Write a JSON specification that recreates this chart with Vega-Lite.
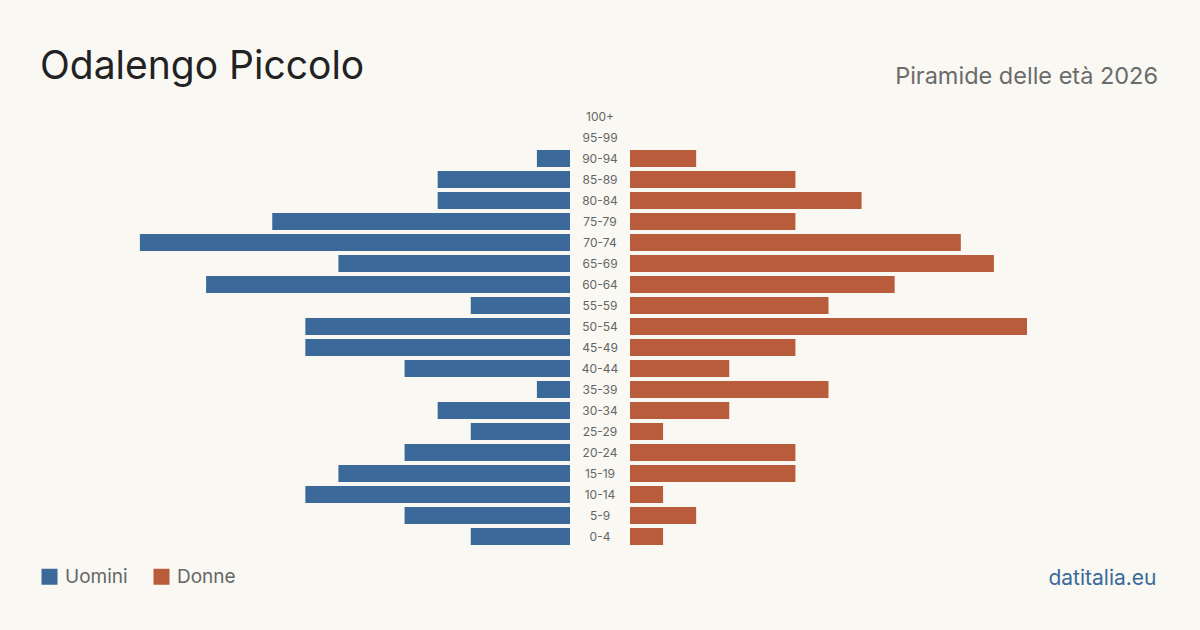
{
  "$schema": "https://vega.github.io/schema/vega-lite/v6.json",
  "background": "#f9f8f3",
  "padding": {"left": 40, "top": 48, "right": 42, "bottom": 43},
  "config": {
    "view": {"stroke": null},
    "font": "Inter",
    "text": {"font": "Inter"}
  },
  "datasets": {
    "piramide": [
      {"eta": "100+", "sesso": "Uomini", "n": 0}, {"eta": "100+", "sesso": "Donne", "n": 0},
      {"eta": "95-99", "sesso": "Uomini", "n": 0}, {"eta": "95-99", "sesso": "Donne", "n": 0},
      {"eta": "90-94", "sesso": "Uomini", "n": 1}, {"eta": "90-94", "sesso": "Donne", "n": 2},
      {"eta": "85-89", "sesso": "Uomini", "n": 4}, {"eta": "85-89", "sesso": "Donne", "n": 5},
      {"eta": "80-84", "sesso": "Uomini", "n": 4}, {"eta": "80-84", "sesso": "Donne", "n": 7},
      {"eta": "75-79", "sesso": "Uomini", "n": 9}, {"eta": "75-79", "sesso": "Donne", "n": 5},
      {"eta": "70-74", "sesso": "Uomini", "n": 13}, {"eta": "70-74", "sesso": "Donne", "n": 10},
      {"eta": "65-69", "sesso": "Uomini", "n": 7}, {"eta": "65-69", "sesso": "Donne", "n": 11},
      {"eta": "60-64", "sesso": "Uomini", "n": 11}, {"eta": "60-64", "sesso": "Donne", "n": 8},
      {"eta": "55-59", "sesso": "Uomini", "n": 3}, {"eta": "55-59", "sesso": "Donne", "n": 6},
      {"eta": "50-54", "sesso": "Uomini", "n": 8}, {"eta": "50-54", "sesso": "Donne", "n": 12},
      {"eta": "45-49", "sesso": "Uomini", "n": 8}, {"eta": "45-49", "sesso": "Donne", "n": 5},
      {"eta": "40-44", "sesso": "Uomini", "n": 5}, {"eta": "40-44", "sesso": "Donne", "n": 3},
      {"eta": "35-39", "sesso": "Uomini", "n": 1}, {"eta": "35-39", "sesso": "Donne", "n": 6},
      {"eta": "30-34", "sesso": "Uomini", "n": 4}, {"eta": "30-34", "sesso": "Donne", "n": 3},
      {"eta": "25-29", "sesso": "Uomini", "n": 3}, {"eta": "25-29", "sesso": "Donne", "n": 1},
      {"eta": "20-24", "sesso": "Uomini", "n": 5}, {"eta": "20-24", "sesso": "Donne", "n": 5},
      {"eta": "15-19", "sesso": "Uomini", "n": 7}, {"eta": "15-19", "sesso": "Donne", "n": 5},
      {"eta": "10-14", "sesso": "Uomini", "n": 8}, {"eta": "10-14", "sesso": "Donne", "n": 1},
      {"eta": "5-9", "sesso": "Uomini", "n": 5}, {"eta": "5-9", "sesso": "Donne", "n": 2},
      {"eta": "0-4", "sesso": "Uomini", "n": 3}, {"eta": "0-4", "sesso": "Donne", "n": 1}
    ]
  },
  "data": {"name": "piramide"},
  "spacing": 0,
  "bounds": "flush",
  "resolve": {"scale": {"color": "independent", "y": "independent"}, "legend": {"color": "independent"}},
  "hconcat": [
    {
      "width": 530,
      "height": 441,
      "title": {"text": "Odalengo Piccolo", "anchor": "start", "frame": "group", "fontSize": 39, "font": "Inter", "fontWeight": "normal", "color": "#222222", "baseline": "alphabetic", "offset": -12},
      "transform": [{"filter": "datum.sesso === 'Uomini'"}],
      "mark": {"type": "bar"},
      "encoding": {
        "y": {"field": "eta", "type": "nominal", "axis": null,
              "scale": {"domain": ["100+", "95-99", "90-94", "85-89", "80-84", "75-79", "70-74", "65-69", "60-64", "55-59", "50-54", "45-49", "40-44", "35-39", "30-34", "25-29", "20-24", "15-19", "10-14", "5-9", "0-4"], "paddingInner": 0.2, "paddingOuter": 0.1}},
        "x": {"field": "n", "type": "quantitative", "axis": null, "scale": {"domain": [0, 16.02], "reverse": true, "nice": false}},
        "color": {"field": "sesso", "type": "nominal",
                  "scale": {"domain": ["Uomini", "Donne"], "range": ["#3b6a9a", "#b95c3c"]},
                  "legend": {"orient": "bottom", "direction": "horizontal", "title": null, "symbolType": "square", "symbolSize": 256, "symbolStrokeWidth": 0, "symbolOpacity": 1, "labelFontSize": 19, "labelFont": "Inter", "labelColor": "#666666", "labelOffset": 6, "columnPadding": 24, "offset": 20, "padding": 0}}
      }
    },
    {
      "width": 60,
      "height": 441,
      "transform": [{"filter": "datum.sesso === 'Uomini'"}],
      "mark": {"type": "text", "fontSize": 12, "font": "Inter", "color": "#666666", "align": "center", "baseline": "middle"},
      "encoding": {
        "y": {"field": "eta", "type": "nominal", "axis": null,
              "scale": {"domain": ["100+", "95-99", "90-94", "85-89", "80-84", "75-79", "70-74", "65-69", "60-64", "55-59", "50-54", "45-49", "40-44", "35-39", "30-34", "25-29", "20-24", "15-19", "10-14", "5-9", "0-4"], "paddingInner": 0.2, "paddingOuter": 0.1}},
        "text": {"field": "eta"}
      }
    },
    {
      "width": 528,
      "height": 441,
      "title": {"text": "Piramide delle età 2026", "anchor": "end", "frame": "group", "fontSize": 23.5, "font": "Inter", "fontWeight": "normal", "color": "#6b6b6b", "baseline": "alphabetic", "offset": -1},
      "transform": [{"filter": "datum.sesso === 'Donne'"}],
      "mark": {"type": "bar"},
      "encoding": {
        "y": {"field": "eta", "type": "nominal", "axis": null,
              "scale": {"domain": ["100+", "95-99", "90-94", "85-89", "80-84", "75-79", "70-74", "65-69", "60-64", "55-59", "50-54", "45-49", "40-44", "35-39", "30-34", "25-29", "20-24", "15-19", "10-14", "5-9", "0-4"], "paddingInner": 0.2, "paddingOuter": 0.1}},
        "x": {"field": "n", "type": "quantitative", "scale": {"domain": [0, 15.96], "nice": false},
              "axis": {"title": "datitalia.eu", "labels": false, "ticks": false, "domain": false, "grid": false, "titleAnchor": "end", "titleX": 526, "titleAlign": "right", "titleFont": "Inter", "titleFontSize": 21, "titleFontWeight": "normal", "titleColor": "#3b6a9a", "titlePadding": 20}},
        "color": {"field": "sesso", "type": "nominal", "legend": null,
                  "scale": {"domain": ["Uomini", "Donne"], "range": ["#3b6a9a", "#b95c3c"]}}
      }
    }
  ]
}
